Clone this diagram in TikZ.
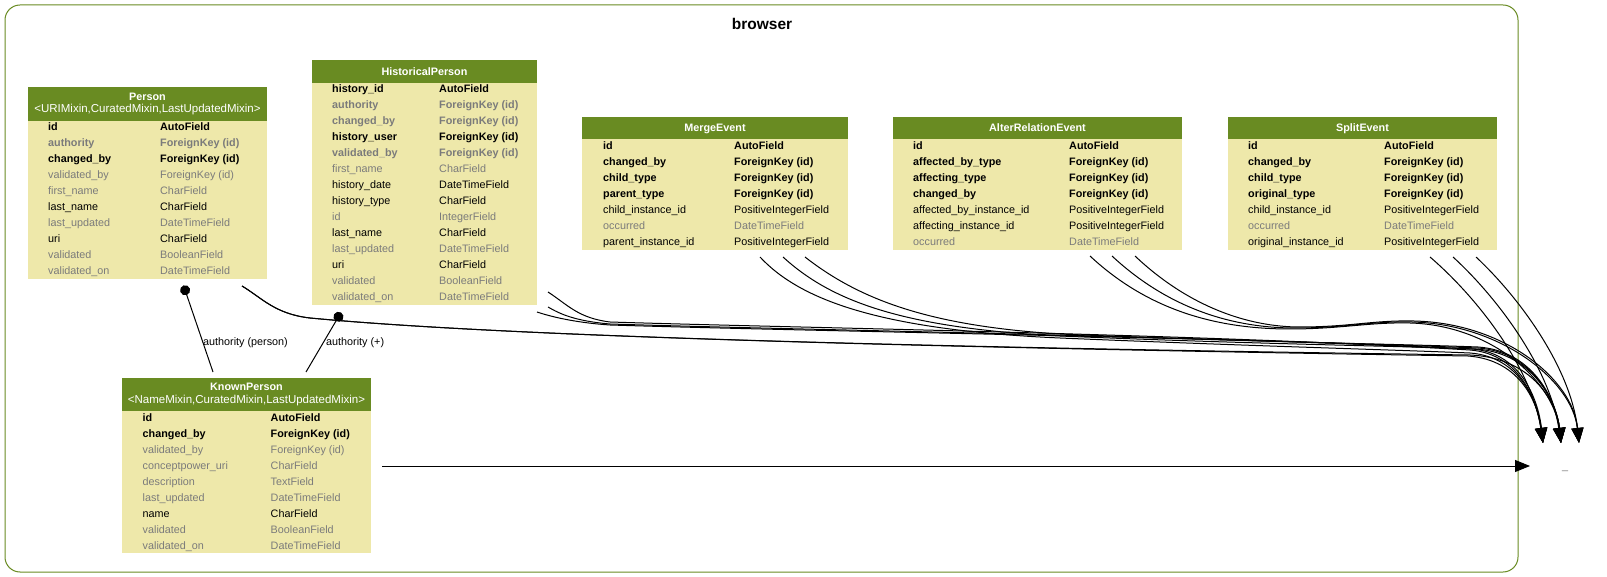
\documentclass[tikz,border=0pt]{standalone}
\usepackage{fontspec}
\setmainfont{Liberation Sans}
\usetikzlibrary{arrows.meta,fit}
\definecolor{hdr}{HTML}{698B22}
\definecolor{bdy}{HTML}{EEE8AA}
\definecolor{gry}{HTML}{7B7B7B}
\newcommand\rowbb{\bfseries\color{black}}
\newcommand\rowbg{\bfseries\color{gry}}
\newcommand\rownn{\color{black}}
\newcommand\rowgg{\color{gry}}
\newcommand\tablefont{\fontsize{10.8}{12}\selectfont}
\tikzset{
  hdrbox/.style={fill=hdr, draw=none, inner sep=0pt, rectangle},
  bodybox/.style={fill=bdy, draw=none, inner sep=0pt, rectangle},
  cell/.style={anchor=base west, inner sep=0pt, font=\tablefont},
  hdrtitle/.style={anchor=base, inner sep=0pt, text=white, font=\tablefont\bfseries},
  hdrsub/.style={anchor=base, inner sep=0pt, text=white, font=\fontsize{11.5}{13}\selectfont},
  fk/.style={draw=black, line width=1pt, -{Triangle[length=15pt,width=12pt]}},
  dotend/.style={draw=black, line width=1pt, -{Circle[length=10pt]}},
  elabel/.style={anchor=base west, inner sep=0pt, font=\tablefont},
}
% #1 name, #2 x1, #3 x2, #4 top, #5 header bottom, #6 body bottom
\newcommand\erboxes[6]{%
  \node[hdrbox, fit={(#2,#4) (#3,#5)}] (#1-head) {};
  \node[bodybox, fit={(#2,#5) (#3,#6)}] (#1) {};
}
% #1 name, #2 header bottom, #3 col1 x, #4 col2 x, #5 rows
\newcommand\errows[5]{%
  \foreach \s/\f/\t [count=\i] in {#5} {
    \node[cell] (#1-f\i) at (#3, {#2+10+16*(\i-1)}) {\s\f};
    \node[cell] (#1-t\i) at (#4, {#2+10+16*(\i-1)}) {\s\t};
  }
}
\begin{document}
\begin{tikzpicture}[x=1pt,y=-1pt]
\useasboundingbox (0,0) rectangle (1607,577);
% cluster
\node[draw=hdr, line width=1pt, rounded corners=15pt, fit={(5,5) (1518,572)}, inner sep=0pt] (cluster) {};
\node[anchor=base, inner sep=0pt, font=\fontsize{15.5}{18}\selectfont\bfseries] (cluster-label) at (762,29.5) {browser};

% Person
\erboxes{person}{28}{267}{87}{121}{279}
\node[hdrtitle] (person-title) at (147.5,101) {Person};
\node[hdrsub] (person-sub) at (147.5,113) {\textless URIMixin,CuratedMixin,LastUpdatedMixin\textgreater};
\errows{person}{121}{48}{160}{\rowbb/id/AutoField, \rowbg/authority/ForeignKey (id), \rowbb/changed\_by/ForeignKey (id), \rowgg/validated\_by/ForeignKey (id), \rowgg/first\_name/CharField, \rownn/last\_name/CharField, \rowgg/last\_updated/DateTimeField, \rownn/uri/CharField, \rowgg/validated/BooleanField, \rowgg/validated\_on/DateTimeField}

% HistoricalPerson
\erboxes{hist}{312}{537}{60.5}{83}{305}
\node[hdrtitle] (hist-title) at (424.5,75.5) {HistoricalPerson};
\errows{hist}{83}{332}{439}{\rowbb/history\_id/AutoField, \rowbg/authority/ForeignKey (id), \rowbg/changed\_by/ForeignKey (id), \rowbb/history\_user/ForeignKey (id), \rowbg/validated\_by/ForeignKey (id), \rowgg/first\_name/CharField, \rownn/history\_date/DateTimeField, \rownn/history\_type/CharField, \rowgg/id/IntegerField, \rownn/last\_name/CharField, \rowgg/last\_updated/DateTimeField, \rownn/uri/CharField, \rowgg/validated/BooleanField, \rowgg/validated\_on/DateTimeField}

% MergeEvent
\erboxes{merge}{582}{848}{117}{139.5}{250}
\node[hdrtitle] (merge-title) at (715,132) {MergeEvent};
\errows{merge}{139.5}{603}{734}{\rowbb/id/AutoField, \rowbb/changed\_by/ForeignKey (id), \rowbb/child\_type/ForeignKey (id), \rowbb/parent\_type/ForeignKey (id), \rownn/child\_instance\_id/PositiveIntegerField, \rowgg/occurred/DateTimeField, \rownn/parent\_instance\_id/PositiveIntegerField}

% AlterRelationEvent
\erboxes{alter}{893}{1182}{117}{139.5}{250}
\node[hdrtitle] (alter-title) at (1037.5,132) {AlterRelationEvent};
\errows{alter}{139.5}{913}{1069}{\rowbb/id/AutoField, \rowbb/affected\_by\_type/ForeignKey (id), \rowbb/affecting\_type/ForeignKey (id), \rowbb/changed\_by/ForeignKey (id), \rownn/affected\_by\_instance\_id/PositiveIntegerField, \rownn/affecting\_instance\_id/PositiveIntegerField, \rowgg/occurred/DateTimeField}

% SplitEvent
\erboxes{split}{1228}{1497}{117}{139.5}{250}
\node[hdrtitle] (split-title) at (1362.5,132) {SplitEvent};
\errows{split}{139.5}{1248}{1384}{\rowbb/id/AutoField, \rowbb/changed\_by/ForeignKey (id), \rowbb/child\_type/ForeignKey (id), \rowbb/original\_type/ForeignKey (id), \rownn/child\_instance\_id/PositiveIntegerField, \rowgg/occurred/DateTimeField, \rownn/original\_instance\_id/PositiveIntegerField}

% KnownPerson
\erboxes{known}{122}{371}{378}{411}{553}
\node[hdrtitle] (known-title) at (246.5,391) {KnownPerson};
\node[hdrsub] (known-sub) at (246.5,403) {\textless NameMixin,CuratedMixin,LastUpdatedMixin\textgreater};
\errows{known}{411}{142.5}{270.5}{\rowbb/id/AutoField, \rowbb/changed\_by/ForeignKey (id), \rowgg/validated\_by/ForeignKey (id), \rowgg/conceptpower\_uri/CharField, \rowgg/description/TextField, \rowgg/last\_updated/DateTimeField, \rownn/name/CharField, \rowgg/validated/BooleanField, \rowgg/validated\_on/DateTimeField}

% external target
\node[anchor=base, inner sep=0pt, text=gry, font=\tablefont] (ext) at (1565,469) {\_};
\coordinate (ext-in1) at (1543,443);
\coordinate (ext-in2) at (1561,443);
\coordinate (ext-in3) at (1579,443);
\coordinate (ext-w) at (1530,466);

% ports
\coordinate (person-o) at (242,286);
\coordinate (person-a) at (183.5,285.5);
\coordinate (known-a1) at (213,372);
\coordinate (known-a2) at (306,372);
\coordinate (hist-a) at (341,312.5);
\coordinate (hist-o1) at (548,292);
\coordinate (hist-o2) at (548,307);
\coordinate (hist-o3) at (537,312);
\coordinate (merge-o1) at (760,257);
\coordinate (merge-o2) at (783,257);
\coordinate (merge-o3) at (805,257);
\coordinate (alter-o1) at (1090,256);
\coordinate (alter-o2) at (1112,256);
\coordinate (alter-o3) at (1135,256);
\coordinate (split-o1) at (1430,257);
\coordinate (split-o2) at (1453,257);
\coordinate (split-o3) at (1476,257);
\coordinate (known-o) at (382,466);

% authority links
\draw[dotend] (known-a1) -- (person-a);
\draw[dotend] (known-a2) -- (hist-a);
\node[elabel] (lab-person) at (203,346) {authority (person)};
\node[elabel] (lab-hist) at (326,346) {authority (+)};

% Person -> _
\draw[fk] (person-o) .. controls (262,298) and (275,314) .. (310,318) .. controls (500,336) and (900,347) .. (1468,356) .. controls (1522,360) and (1538,405) .. (ext-in1);
\draw[fk] (person-o) .. controls (262,298) and (275,314) .. (310,318) .. controls (500,336) and (900,347) .. (1470,355) .. controls (1535,358) and (1557,405) .. (ext-in2);

% HistoricalPerson -> _
\draw[fk] (hist-o1) .. controls (568,305) and (578,318) .. (610,322) .. controls (800,328) and (1200,334) .. (1470,350) .. controls (1522,354) and (1538,405) .. (ext-in1);
\draw[fk] (hist-o2) .. controls (560,314) and (575,321) .. (610,324) .. controls (800,330) and (1200,336) .. (1472,349) .. controls (1524,353) and (1539,405) .. (ext-in1);
\draw[fk] (hist-o3) .. controls (555,318) and (580,323) .. (610,325) .. controls (800,331) and (1200,337) .. (1478,348) .. controls (1535,352) and (1557,405) .. (ext-in2);

% MergeEvent -> _
\draw[fk] (merge-o1) .. controls (800,300) and (880,330) .. (1060,338) .. controls (1250,346) and (1400,350) .. (1470,353) .. controls (1522,357) and (1538,405) .. (ext-in1);
\draw[fk] (merge-o2) .. controls (830,300) and (900,328) .. (1060,336) .. controls (1250,344) and (1400,346) .. (1476,349) .. controls (1535,353) and (1557,405) .. (ext-in2);
\draw[fk] (merge-o3) .. controls (860,300) and (930,326) .. (1060,334) .. controls (1250,342) and (1400,344) .. (1478,347) .. controls (1536,351) and (1557,405) .. (ext-in2);

% AlterRelationEvent -> _
\draw[fk] (alter-o1) .. controls (1150,312) and (1220,329) .. (1290,329) .. controls (1340,329) and (1370,322) .. (1410,323) .. controls (1490,325) and (1553,380) .. (ext-in2);
\draw[fk] (alter-o2) .. controls (1170,310) and (1235,328) .. (1295,328) .. controls (1345,328) and (1372,321) .. (1412,322) .. controls (1500,324) and (1572,380) .. (ext-in3);
\draw[fk] (alter-o3) .. controls (1190,308) and (1250,327) .. (1300,327) .. controls (1350,327) and (1374,320) .. (1414,321) .. controls (1505,323) and (1573,380) .. (ext-in3);

% SplitEvent -> _
\draw[fk] (split-o1) .. controls (1480,300) and (1532,370) .. (ext-in1);
\draw[fk] (split-o2) .. controls (1500,300) and (1550,370) .. (ext-in2);
\draw[fk] (split-o3) .. controls (1522,300) and (1571,370) .. (ext-in3);

% KnownPerson -> _
\draw[fk] (known-o) -- (ext-w);
\end{tikzpicture}
\end{document}
